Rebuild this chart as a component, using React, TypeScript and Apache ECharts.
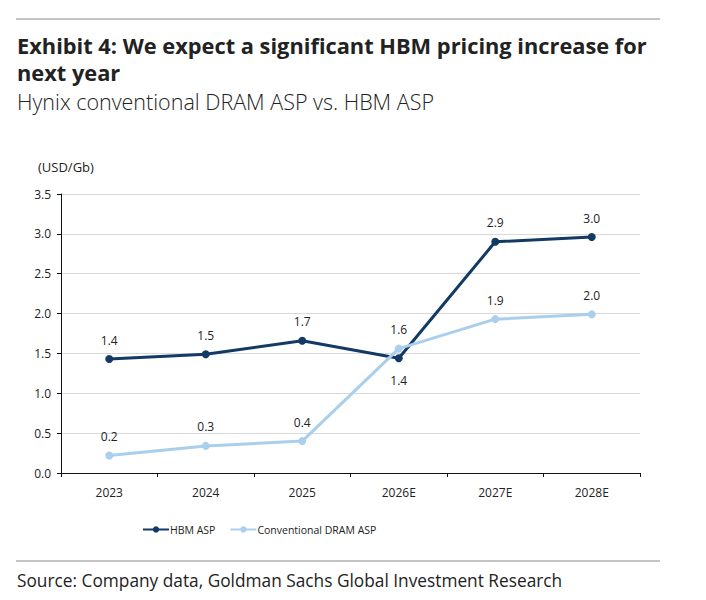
import React, { useEffect, useRef } from "react";
import * as echarts from "echarts";

const categories = ["2023", "2024", "2025", "2026E", "2027E", "2028E"];
const hbmAsp = [1.43, 1.49, 1.66, 1.44, 2.9, 2.96];
const dramAsp = [0.22, 0.34, 0.4, 1.56, 1.93, 1.99];
const seriesNames = ["HBM ASP", "Conventional DRAM ASP"];
const yTicks = { min: 0, max: 3.5, interval: 0.5 };
const titleLines = ["Exhibit 4: We expect a significant HBM pricing increase for", "next year"];
const subtitle = "Hynix conventional DRAM ASP vs. HBM ASP";
const unitLabel = "(USD/Gb)";
const sourceText = "Source: Company data, Goldman Sachs Global Investment Research";

const FONT = "'Open Sans', 'Noto Sans', sans-serif";
const NAVY = "#123a64";
const LIGHT = "#a9cfed";

export default function App() {
  const ref = useRef<HTMLDivElement>(null);
  useEffect(() => {
    document.body.style.margin = "0";
    const chart = echarts.init(ref.current!, null, { renderer: "svg" });
    const label = {
      show: true,
      fontFamily: FONT,
      fontSize: 12,
      color: "#222",
      distance: 9,
      position: "top" as any,
      formatter: (p: any) => Number(p.value).toFixed(1),
    };
    chart.setOption({
      animation: false,
      backgroundColor: "#fff",
      textStyle: { fontFamily: FONT },
      grid: { left: 61, right: 66, top: 194, bottom: 127, containLabel: false },
      xAxis: {
        type: "category",
        data: categories,
        boundaryGap: true,
        axisLine: { lineStyle: { color: "#111", width: 1 } },
        axisTick: { show: true, length: 4, lineStyle: { color: "#111" } },
        axisLabel: { fontFamily: FONT, fontSize: 12, color: "#222", margin: 13 },
      },
      yAxis: {
        type: "value",
        min: yTicks.min,
        max: yTicks.max,
        interval: yTicks.interval,
        axisLine: { show: true, lineStyle: { color: "#111", width: 1 } },
        axisTick: { show: true, length: 4, lineStyle: { color: "#111" } },
        axisLabel: {
          fontFamily: FONT,
          fontSize: 12,
          color: "#222",
          margin: 10,
          formatter: (v: number) => v.toFixed(1),
        },
        splitLine: { lineStyle: { color: "#d9d9d9", width: 1 } },
      },
      legend: {
        left: 137,
        top: 519,
        itemWidth: 26,
        itemHeight: 8,
        itemGap: 14,
        textStyle: { fontFamily: FONT, fontSize: 10.5, color: "#222", padding: [0, 0, 0, -4] },
        data: seriesNames,
      },
      series: [
        {
          name: seriesNames[0],
          type: "line",
          data: hbmAsp.map((v, i) => ({
            value: v,
            label: i === 3 ? { position: "bottom", distance: 12 } : undefined,
          })),
          symbol: "circle",
          symbolSize: 8,
          lineStyle: { color: NAVY, width: 3 },
          itemStyle: { color: NAVY },
          label,
        },
        {
          name: seriesNames[1],
          type: "line",
          data: dramAsp,
          symbol: "circle",
          symbolSize: 8,
          lineStyle: { color: LIGHT, width: 3 },
          itemStyle: { color: LIGHT },
          label,
        },
      ],
      graphic: [
        { type: "line", shape: { x1: 16, y1: 19, x2: 660, y2: 19 }, style: { stroke: "#888", lineWidth: 1 } },
        {
          type: "text",
          left: 17,
          top: 34,
          style: { text: titleLines[0], font: `bold 21.8px ${FONT}`, fill: "#222" },
        },
        {
          type: "text",
          left: 17,
          top: 61,
          style: { text: titleLines[1], font: `bold 21.8px ${FONT}`, fill: "#222" },
        },
        {
          type: "text",
          left: 17,
          top: 90,
          style: { text: subtitle, font: `300 21.5px ${FONT}`, fill: "#222" },
        },
        {
          type: "text",
          left: 38,
          top: 160,
          style: { text: unitLabel, font: `13px ${FONT}`, fill: "#222" },
        },
        { type: "line", shape: { x1: 16, y1: 561, x2: 660, y2: 561 }, style: { stroke: "#888", lineWidth: 1 } },
        {
          type: "text",
          left: 17,
          top: 572,
          style: { text: sourceText, font: `17.3px ${FONT}`, fill: "#222" },
        },
      ],
    });
    return () => chart.dispose();
  }, []);
  return <div ref={ref} style={{ width: 706, height: 600 }} />;
}
